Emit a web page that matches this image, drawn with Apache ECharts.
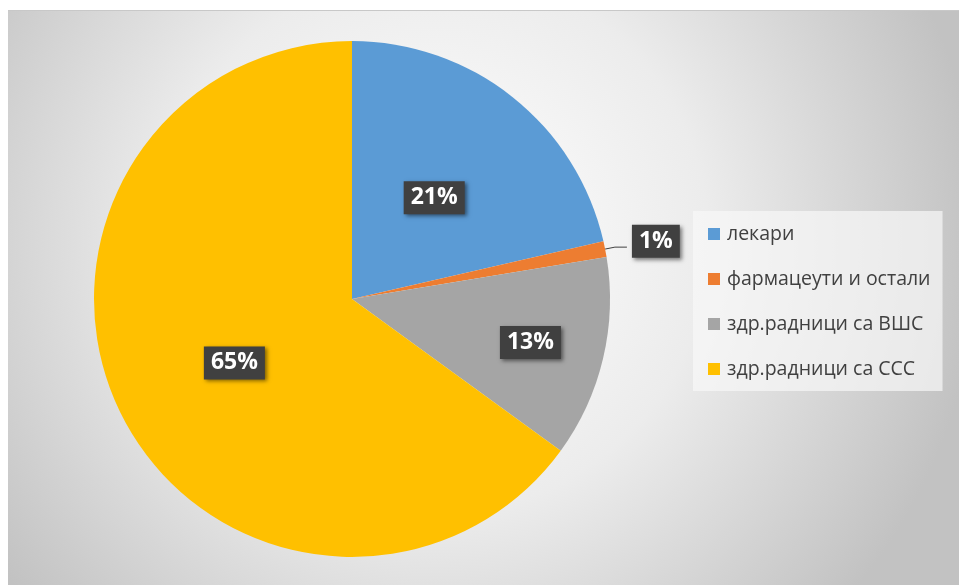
<!DOCTYPE html>
<html>
<head>
<meta charset="utf-8">
<script src="https://cdn.jsdelivr.net/npm/echarts@6/dist/echarts.min.js"></script>
<style>
html,body{margin:0;padding:0;background:#fff;}
#chart{position:absolute;left:8px;top:10px;width:951px;height:575px;border-top:1px solid #c8c8c8;box-sizing:border-box;}
</style>
</head>
<body>
<div id="chart"></div>
<script>
const categories = ['лекари', 'фармацеути и остали', 'здр.радници са ВШС', 'здр.радници са ССС'];
const values = [21.4, 1.0, 12.6, 65.0];
const colors = ['#5B9BD5', '#ED7D31', '#A5A5A5', '#FFC000'];

const chart = echarts.init(document.getElementById('chart'));
const labelBox = {
  color: '#fff', fontSize: 23, fontWeight: 'bold', fontFamily: 'Open Sans, sans-serif',
  backgroundColor: '#404040', padding: [6, 7, 4, 7],
  shadowColor: 'rgba(0,0,0,0.5)', shadowBlur: 4, shadowOffsetX: 2, shadowOffsetY: 2,
  formatter: '{d}%'
};
const offsets = [[0, 2], [0, -6], [50, 13], [0, 4]];
chart.setOption({
  backgroundColor: {
    type: 'radial', x: 0.45, y: 0.4, r: 0.95,
    colorStops: [
      { offset: 0, color: '#ffffff' },
      { offset: 0.5, color: '#ececec' },
      { offset: 1, color: '#c2c2c2' }
    ]
  },
  animation: false,
  legend: {
    orient: 'vertical',
    left: 685, top: 200,
    data: categories,
    icon: 'rect', itemWidth: 12, itemHeight: 12, itemGap: 25,
    padding: [13, 12, 12, 15],
    backgroundColor: 'rgba(248,248,248,0.7)',
    textStyle: { fontSize: 19.5, color: '#404040', fontFamily: 'Open Sans, sans-serif', padding: [0, 0, 0, 2] }
  },
  series: [{
    type: 'pie',
    center: [344, 288],
    radius: 258,
    startAngle: 90,
    clockwise: true,
    avoidLabelOverlap: false,
    percentPrecision: 0,
    label: Object.assign({ position: 'inside' }, labelBox),
    labelLine: { show: true, length: 10, length2: 12, lineStyle: { color: '#404040', width: 1 } },
    labelLayout: function (p) { return { dx: offsets[p.dataIndex][0], dy: offsets[p.dataIndex][1] }; },
    emphasis: { disabled: true },
    data: categories.map((c, i) => ({
      name: c, value: values[i],
      itemStyle: { color: colors[i] },
      label: i === 1 ? { position: 'outside' } : undefined,
      labelLine: i === 1 ? { show: true } : { show: false }
    }))
  }]
});
</script>
</body>
</html>
